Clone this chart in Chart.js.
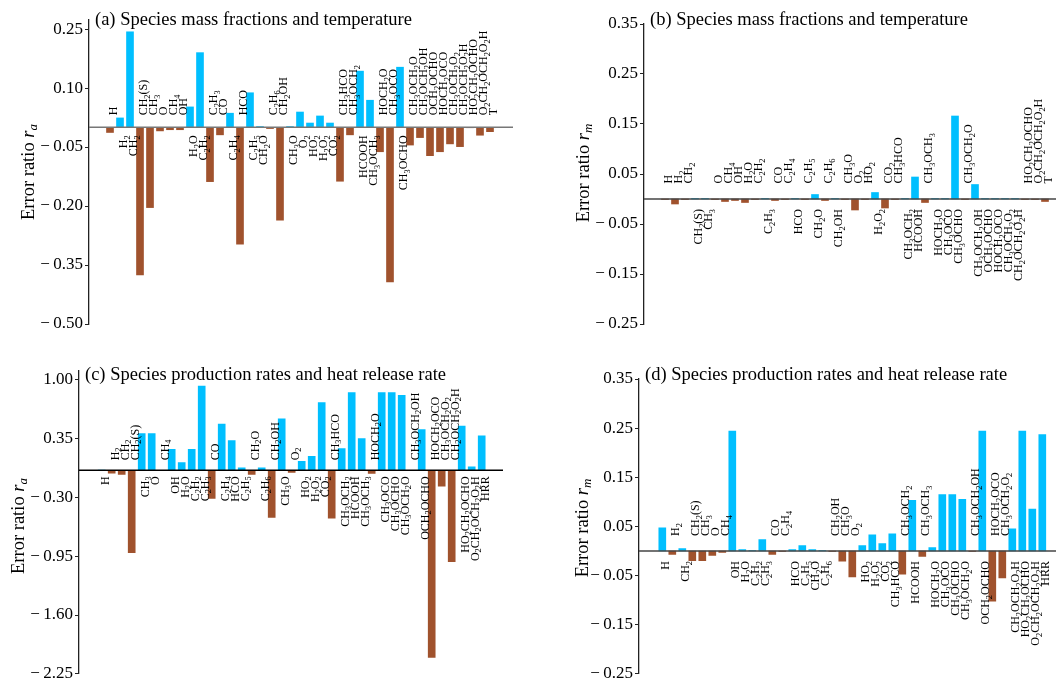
<!DOCTYPE html>
<html>
<head>
<meta charset="utf-8">
<script src="https://cdn.jsdelivr.net/npm/chart.js@4.4.1/dist/chart.umd.min.js"></script>
<style>
  html, body { margin: 0; padding: 0; background: #fff; }
  #wrap { position: relative; width: 1056px; height: 686px; overflow: hidden; }
  #wrap canvas { position: absolute; }
</style>
</head>
<body>
<div id="wrap">
  <canvas id="pa" width="528" height="343" style="left:0;top:0"></canvas>
  <canvas id="pb" width="528" height="343" style="left:528px;top:0"></canvas>
  <canvas id="pc" width="528" height="343" style="left:0;top:343px"></canvas>
  <canvas id="pd" width="528" height="343" style="left:528px;top:343px"></canvas>
</div>
<script>
(function() {
    'use strict';

    // species order shared by every panel; last entry differs (T / HRR)
    const SPECIES = ['H', 'H2', 'CH2', 'CH2(S)', 'CH3', 'O', 'CH4', 'OH', 'H2O', 'C2H2', 'C2H3', 'CO',
        'C2H4', 'HCO', 'C2H5', 'CH2O', 'C2H6', 'CH2OH', 'CH3O', 'O2', 'HO2', 'H2O2', 'CO2', 'CH3HCO',
        'CH3OCH2', 'HCOOH', 'CH3OCH3', 'HOCH2O', 'CH3OCO', 'CH3OCHO', 'CH3OCH2O', 'CH3OCH2OH',
        'OCH2OCHO', 'HOCH2OCO', 'CH3OCH2O2', 'CH2OCH2O2H', 'HO2CH2OCHO', 'O2CH2OCH2O2H'];
    const NAMES_STATE = SPECIES.concat(['T']);
    const NAMES_RATE = SPECIES.concat(['HRR']);

    // (a) mass fractions / temperature, r_a
    const RA_STATE = [-0.013, 0.024, 0.243, -0.375, -0.204, -0.009, -0.006, -0.006, 0.052, 0.190,
        -0.138, -0.019, 0.036, -0.297, 0.088, 0.002, -0.003, -0.236, 0.002, 0.039, 0.011, 0.029,
        0.011, -0.137, -0.019, 0.143, 0.069, -0.062, -0.393, 0.153, -0.045, -0.026, -0.072, -0.062,
        -0.042, -0.049, -0.001, -0.020, -0.011];
    // (b) mass fractions / temperature, r_m
    const RM_STATE = [-0.001, -0.010, -0.001, 0.001, 0.001, -0.001, -0.005, -0.003, -0.007, -0.001,
        0.001, -0.003, -0.001, 0.001, -0.001, 0.009, -0.003, 0.001, -0.001, -0.022, -0.001, 0.013,
        -0.018, -0.001, 0.001, 0.044, -0.007, 0.001, 0.001, 0.166, -0.001, 0.029, 0.001, 0.001,
        0.001, 0.001, -0.001, -0.001, -0.005];
    // (c) production rates / heat release rate, r_a
    const RA_RATE = [0.003, -0.031, -0.045, -0.910, 0.406, 0.406, -0.003, 0.233, 0.085, 0.233,
        0.930, -0.310, 0.510, 0.330, 0.027, -0.045, 0.027, -0.520, 0.570, -0.023, 0.100, 0.155,
        0.750, -0.530, 0.240, 0.860, 0.350, -0.034, 0.860, 0.860, 0.830, -0.003, 0.450, -2.070,
        -0.175, -1.010, 0.490, 0.038, 0.380];
    // (d) production rates / heat release rate, r_m
    const RM_RATE = [0.047, -0.007, 0.005, -0.020, -0.020, -0.009, -0.003, 0.244, 0.003, 0.001,
        0.023, -0.007, -0.001, 0.003, 0.011, 0.003, 0.001, -0.001, -0.021, -0.053, 0.011, 0.033,
        0.015, 0.035, -0.047, 0.103, -0.011, 0.007, 0.115, 0.115, 0.105, -0.001, 0.244, -0.102,
        -0.055, 0.045, 0.244, 0.085, 0.237];

    const TICKS_A = [0.25, 0.10, -0.05, -0.20, -0.35, -0.50];
    const TICKS_M = [0.35, 0.25, 0.15, 0.05, -0.05, -0.15, -0.25];
    const TICKS_C = [1.00, 0.35, -0.30, -0.95, -1.60, -2.25];

    const BLUE = '#00bfff';
    const BROWN = '#a0522d';
    const SERIF = '"Liberation Serif", "Times New Roman", serif';

    // rotated chemical formula, digits as subscripts
    function drawFormula(ctx, text, x, y, size, fromTop) {
        const parts = [];
        for (const ch of text) {
            const sub = /[0-9]/.test(ch);
            const last = parts[parts.length - 1];
            if (last && last.sub === sub) last.s += ch;
            else parts.push({ s: ch, sub: sub });
        }
        let total = 0;
        parts.forEach(p => {
            ctx.font = (p.sub ? size * 0.7 : size) + 'px ' + SERIF;
            p.w = ctx.measureText(p.s).width;
            total += p.w;
        });
        ctx.save();
        ctx.translate(x, y);
        ctx.rotate(-Math.PI / 2);
        ctx.textAlign = 'left';
        ctx.textBaseline = 'alphabetic';
        let u = fromTop ? -total : 0;
        const base = size * 0.33;
        parts.forEach(p => {
            ctx.font = (p.sub ? size * 0.7 : size) + 'px ' + SERIF;
            ctx.fillText(p.s, u, p.sub ? base + size * 0.22 : base);
            u += p.w;
        });
        ctx.restore();
    }

    function drawAxisTitle(ctx, x, y, sub) {
        const size = 18.5;
        const pieces = [
            { s: 'Error ratio ', font: size + 'px ' + SERIF, dv: 0 },
            { s: 'r', font: 'italic ' + size + 'px ' + SERIF, dv: 0 },
            { s: sub, font: 'italic ' + (size * 0.7) + 'px ' + SERIF, dv: size * 0.2 }
        ];
        let total = 0;
        pieces.forEach(p => { ctx.font = p.font; p.w = ctx.measureText(p.s).width; total += p.w; });
        ctx.save();
        ctx.translate(x, y);
        ctx.rotate(-Math.PI / 2);
        ctx.fillStyle = '#000';
        ctx.textBaseline = 'alphabetic';
        let u = -total / 2;
        pieces.forEach(p => {
            ctx.font = p.font;
            ctx.fillText(p.s, u, size * 0.3 + p.dv);
            u += p.w;
        });
        ctx.restore();
    }

    function fmtTick(v) {
        return (v < -1e-9 ? '\u2212\u2009' : '') + Math.abs(v).toFixed(2);
    }

    function makePanel(id, names, values, ticks, sub, title, geo) {
        const decor = {
            id: 'decor_' + id,
            afterDatasetsDraw(chart) {
                const ctx = chart.ctx;
                const area = chart.chartArea;
                const y0 = chart.scales.y.getPixelForValue(0);
                ctx.save();
                ctx.strokeStyle = geo.zeroColor;
                ctx.lineWidth = 1.5;
                ctx.beginPath();
                ctx.moveTo(area.left, y0);
                ctx.lineTo(area.right, y0);
                ctx.stroke();
                ctx.restore();
            },
            afterDraw(chart) {
                const ctx = chart.ctx;
                const xs = chart.scales.x;
                const y0 = chart.scales.y.getPixelForValue(0);
                ctx.save();
                ctx.fillStyle = '#000';
                names.forEach((n, i) => {
                    const x = xs.getPixelForValue(i) + geo.labelDx;
                    if (values[i] < 0) drawFormula(ctx, n, x, y0 - geo.gapAbove, 12, false);
                    else drawFormula(ctx, n, x, y0 + geo.gapBelow, 12, true);
                });
                ctx.font = '18.5px ' + SERIF;
                ctx.textAlign = 'left';
                ctx.textBaseline = 'alphabetic';
                ctx.fillText(title, geo.titleX, geo.titleY);
                ctx.restore();
                drawAxisTitle(ctx, geo.yTitleX, geo.yTitleY, sub);
            }
        };

        return new Chart(document.getElementById(id), {
            type: 'bar',
            data: {
                datasets: [{
                    data: values.map((v, i) => ({ x: i, y: v })),
                    backgroundColor: values.map(v => v < 0 ? BROWN : BLUE),
                    borderWidth: 0,
                    barThickness: 7
                }]
            },
            options: {
                responsive: false,
                animation: false,
                layout: { padding: { left: 0, top: geo.top, right: 528 - geo.right, bottom: 343 - geo.bottom } },
                scales: {
                    x: { type: 'linear', offset: false, min: geo.xMin, max: geo.xMax, display: false },
                    y: {
                        min: geo.yMin,
                        max: geo.yMax,
                        afterFit: s => { s.width = geo.left; },
                        afterBuildTicks: s => { s.ticks = ticks.map(v => ({ value: v })); },
                        ticks: {
                            autoSkip: false,
                            padding: 2,
                            color: '#000',
                            font: { family: SERIF, size: 17 },
                            callback: v => fmtTick(v)
                        },
                        grid: { display: true, drawOnChartArea: false, drawTicks: true, tickLength: 4, tickColor: '#222', tickWidth: 1 },
                        border: { display: true, color: '#222', width: 1.3 }
                    }
                },
                plugins: { legend: { display: false }, tooltip: { enabled: false } }
            },
            plugins: [decor]
        });
    }

    makePanel('pa', NAMES_STATE, RA_STATE, TICKS_A, 'a', '(a) Species mass fractions and temperature', {
        left: 89, top: 20, right: 513, bottom: 324, yMin: -0.5, yMax: 0.273, xMin: -2.1, xMax: 40.3,
        gapAbove: 12, gapBelow: 8, labelDx: 3, zeroColor: '#777',
        titleX: 95, titleY: 25, yTitleX: 28, yTitleY: 172
    });
    makePanel('pb', NAMES_STATE, RM_STATE, TICKS_M, 'm', '(b) Species mass fractions and temperature', {
        left: 116, top: 24, right: 528, bottom: 324, yMin: -0.25, yMax: 0.35, xMin: -2.1, xMax: 39.1,
        gapAbove: 15.5, gapBelow: 10, labelDx: 3, zeroColor: '#444',
        titleX: 122, titleY: 25, yTitleX: 55, yTitleY: 173
    });
    makePanel('pc', NAMES_RATE, RA_RATE, TICKS_C, 'a', '(c) Species production rates and heat release rate', {
        left: 79, top: 28, right: 503, bottom: 336, yMin: -2.25, yMax: 1.098, xMin: -2.27, xMax: 40.13,
        gapAbove: 10, gapBelow: 6, labelDx: 3, zeroColor: '#000',
        titleX: 85, titleY: 37, yTitleX: 18, yTitleY: 183
    });
    makePanel('pd', NAMES_RATE, RM_RATE, TICKS_M, 'm', '(d) Species production rates and heat release rate', {
        left: 111, top: 36, right: 528, bottom: 336, yMin: -0.25, yMax: 0.35, xMin: -2.33, xMax: 39.37,
        gapAbove: 15, gapBelow: 10, labelDx: 3, zeroColor: '#444',
        titleX: 117, titleY: 37, yTitleX: 54, yTitleY: 185
    });
})();
</script>
</body>
</html>
